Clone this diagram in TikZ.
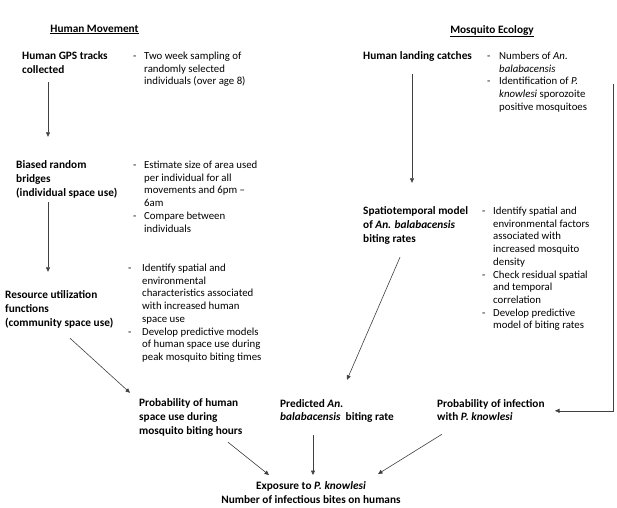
\documentclass[tikz,border=0pt]{standalone}
\usepackage{fontspec}
\setmainfont{Carlito}
\usetikzlibrary{arrows.meta,calc}
\newcommand{\bfsz}{\fontsize{11.3}{14}\selectfont\bfseries}
\newcommand{\bfszb}{\fontsize{11.3}{13}\selectfont\bfseries}
\newcommand{\bfszc}{\fontsize{11.3}{14}\selectfont\bfseries}
\newcommand{\rgsz}{\fontsize{10.8}{12.7}\selectfont}
\newcommand{\blk}[1]{\begin{tabular}[t]{@{}l@{}}#1\end{tabular}}
\newcommand{\cblk}[1]{\begin{tabular}[t]{@{}c@{}}#1\end{tabular}}
\newcommand{\bul}[2]{\begin{tabular}[t]{@{}p{#1}@{}l@{}}#2\end{tabular}}
\tikzset{
  lbl/.style={inner sep=0pt, anchor=base west, font=\bfsz},
  bl/.style={inner sep=0pt, anchor=base west, font=\rgsz},
  hdr/.style={inner sep=0pt, anchor=base, font=\fontsize{11.3}{14}\selectfont\bfseries},
  arr/.style={-{Triangle[length=4.5pt,width=4pt]}, draw=black!75, line width=0.6pt}
}
\begin{document}
\begin{tikzpicture}[x=1pt,y=-1pt]
\useasboundingbox (0,0) rectangle (617,507);
\fill[white] (0,0) rectangle (617,507);

% headers
\node[hdr] (hm) at (94.5,32) {\underline{Human Movement}};
\node[hdr] (me) at (492,33) {\underline{Mosquito Ecology}};

% human movement column
\node[lbl] (gps) at (22,59.5) {\blk{Human GPS tracks\\collected}};
\node[bl] (gpsd) at (133,59.5) {\bul{11pt}{- & Two week sampling of\\ & randomly selected\\ & individuals (over age 8)}};

\node[lbl] (brb) at (16,168.5) {\blk{Biased random\\bridges\\(individual space use)}};
\node[bl] (brbd) at (133,168.5) {\bul{11pt}{- & Estimate size of area used\\ & per individual for all\\ & movements and 6pm --\\ & 6am\\- & Compare between\\ & individuals}};

\node[lbl] (ruf) at (5,298.5) {\blk{Resource utilization\\functions\\(community space use)}};
\node[bl] (rufd) at (128,271.5) {\bul{14pt}{- & Identify spatial and\\ & environmental\\ & characteristics associated\\ & with increased human\\ & space use\\- & Develop predictive models\\ & of human space use during\\ & peak mosquito biting times}};

% mosquito ecology column
\node[lbl] (hlc) at (363,59.5) {\blk{Human landing catches}};
\node[bl] (hlcd) at (487,59.5) {\bul{12pt}{- & Numbers of \textit{An.}\\ & \textit{balabacensis}\\- & Identification of \textit{P.}\\ & \textit{knowlesi} sporozoite\\ & positive mosquitoes}};

\node[lbl] (stm) at (363,214.5) {\blk{Spatiotemporal model\\of \textit{An. balabacensis}\\biting rates}};
\node[bl] (stmd) at (482,214.5) {\bul{11pt}{- & Identify spatial and\\ & environmental factors\\ & associated with\\ & increased mosquito\\ & density\\- & Check residual spatial\\ & and temporal\\ & correlation\\- & Develop predictive\\ & model of biting rates}};

% bottom row
\node[lbl] (phs) at (139,406.5) {\blk{Probability of human\\space use during\\mosquito biting hours}};
\node[lbl, font=\bfszb] (pred) at (280,407.5) {\blk{Predicted \textit{An.}\\\textit{balabacensis}\ \ biting rate}};
\node[lbl, font=\bfszb] (pinf) at (437,407.5) {\blk{Probability of infection\\with \textit{P. knowlesi}}};
\node[hdr, font=\bfszc] (exp) at (311,489.5) {\cblk{Exposure to \textit{P. knowlesi}\\Number of infectious bites on humans}};

% connectors
\draw[arr] ($(gps.south west)+(26,4.3)$) -- ($(brb.north west)+(32,-21.7)$);
\draw[arr] ($(brb.south west)+(32,1.3)$) -- ($(ruf.north west)+(43,-16.7)$);
\draw[arr] ($(ruf.south west)+(65,7.3)$) -- ($(phs.north west)+(-9,-3.7)$);
\draw[arr] ($(phs.south west)+(89,3.3)$) -- ($(exp.north)+(-42,-4.5)$);
\draw[arr] ($(pred.south west)+(33,10.6)$) -- ($(exp.north)+(2,-4.5)$);
\draw[arr] ($(pinf.south west)+(5,9.6)$) -- ($(exp.north)+(67,-5.5)$);
\draw[arr] ($(hlc.south west)+(49,10.3)$) -- ($(stm.north west)+(49,-21.7)$);
\draw[arr] ($(stm.south west)+(37,10.3)$) -- ($(pred.north west)+(67,-18.4)$);
\draw[arr] ($(hlcd.north west)+(126,33.4)$) |- ($(pinf.north west)+(118,12.6)$);
\end{tikzpicture}
\end{document}
